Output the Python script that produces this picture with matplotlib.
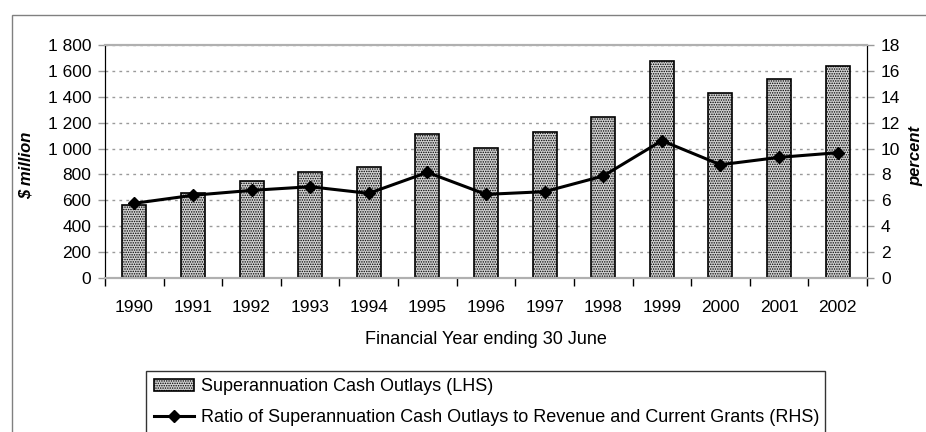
import matplotlib
matplotlib.use("Agg")
import matplotlib.pyplot as plt
from matplotlib.patches import Rectangle
from matplotlib.ticker import FuncFormatter, MultipleLocator
import numpy as np

plt.rcParams['font.family'] = ['Liberation Sans', 'DejaVu Sans']
plt.rcParams['hatch.color'] = '#858585'
plt.rcParams['hatch.linewidth'] = 0.7

years = ['1990', '1991', '1992', '1993', '1994', '1995', '1996',
         '1997', '1998', '1999', '2000', '2001', '2002']
outlays = [562, 659, 749, 816, 855, 1112, 1002, 1128, 1241, 1679, 1427, 1537, 1635]
ratio = [5.77, 6.39, 6.77, 7.05, 6.54, 8.16, 6.46, 6.67, 7.88, 10.61, 8.75, 9.32, 9.68]

W, H = 926, 432
FS = 12.5
fig = plt.figure(figsize=(W / 100, H / 100), dpi=100)
ax = fig.add_axes([105 / W, 1 - 278 / H, (867 - 105) / W, (278 - 45) / H])
ax2 = ax.twinx()

x = np.arange(len(years))
bars = ax.bar(x, outlays, width=0.41, facecolor='#d2d2d2', edgecolor='black',
              linewidth=1.2, hatch='.......', zorder=3,
              label='Superannuation Cash Outlays (LHS)')
line, = ax2.plot(x, ratio, color='black', linewidth=2.2, marker='D', markersize=6.5,
                 label='Ratio of Superannuation Cash Outlays to Revenue and Current Grants (RHS)',
                 zorder=4)

ax.set_xlim(-0.5, len(years) - 0.5)
ax.set_ylim(0, 1800)
ax2.set_ylim(0, 18)
ax.yaxis.set_major_locator(MultipleLocator(200))
ax2.yaxis.set_major_locator(MultipleLocator(2))
ax.yaxis.set_major_formatter(FuncFormatter(lambda v, p: f"{int(v):,}".replace(',', ' ')))

ax.grid(axis='y', color='#9a9a9a', linestyle=(0, (2, 3)), linewidth=1.0, zorder=0)
ax.set_axisbelow(True)

ax.set_xticks(x)
ax.set_xticklabels(years, fontsize=FS)
ax.set_xticks(np.arange(-0.5, len(years) + 0.5, 1), minor=True)
ax.tick_params(axis='x', which='major', length=0, pad=16)
ax.tick_params(axis='x', which='minor', length=6, width=1, color='black', direction='out')
ax.tick_params(axis='y', length=5, width=1, color='#9a9a9a', labelsize=FS, pad=5)
ax2.tick_params(axis='y', length=5, width=1, color='#9a9a9a', labelsize=FS, pad=5)

for a in (ax, ax2):
    a.spines['top'].set_color('#b0b0b0')
    a.spines['top'].set_linewidth(1.5)
    a.spines['bottom'].set_color('#b0b0b0')
    a.spines['bottom'].set_linewidth(1.5)
    a.spines['left'].set_color('black')
    a.spines['right'].set_color('black')

ax.set_xlabel('Financial Year ending 30 June', fontsize=13, labelpad=11)

fig.text(26 / W, 1 - 165 / H, '$ million', rotation=90, ha='center', va='center',
         fontsize=12, fontweight='bold', fontstyle='italic')
fig.text(916 / W, 1 - 156 / H, 'percent', rotation=90, ha='center', va='center',
         fontsize=12, fontweight='bold', fontstyle='italic')

# outer chart frame
fig.patches.append(Rectangle((12 / W, -0.1), 1.2, 1 - 15 / H + 0.1, transform=fig.transFigure,
                             fill=False, edgecolor='#808080', linewidth=1.0))
# legend frame
fig.patches.append(Rectangle((146 / W, -0.1), (825 - 146) / W, 1 - 371 / H + 0.1,
                             transform=fig.transFigure, fill=False,
                             edgecolor='#333333', linewidth=1.0))

leg = fig.legend(handles=[bars, line], loc='upper left',
                 bbox_to_anchor=(149 / W, 1 - 373 / H), frameon=False,
                 fontsize=13, handlelength=2.2, handletextpad=0.4,
                 labelspacing=0.75, borderpad=0.3, borderaxespad=0)

fig.savefig('out.png', dpi=100)
